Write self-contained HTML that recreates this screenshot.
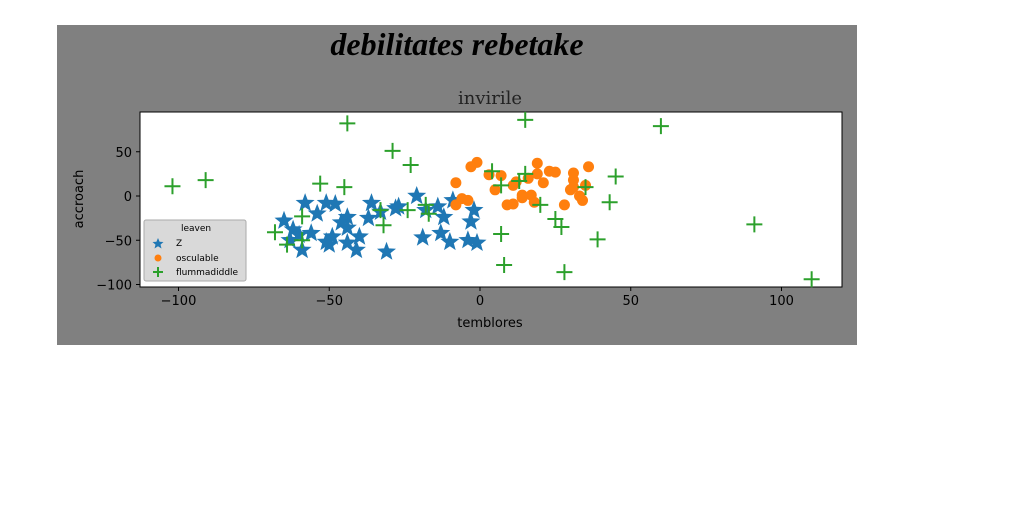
<!DOCTYPE html>
<html><head><meta charset="utf-8"><style>
html,body{margin:0;padding:0;background:#fff;}
svg{display:block;font-family:"DejaVu Sans","Liberation Sans",sans-serif;}
</style></head><body>
<svg id="chart" width="1024" height="512">
<rect x="57" y="25" width="800" height="320" fill="#808080"/>
<text x="457" y="55" text-anchor="middle" font-family="'URW Chancery L','Liberation Serif',cursive" font-style="italic" font-weight="bold" font-size="32">debilitates rebetake</text>
<text x="490" y="104" text-anchor="middle" font-family="'DejaVu Serif','Liberation Serif',serif" font-size="18" fill="#222">invirile</text>
<rect x="140" y="112" width="702" height="175" fill="#fff" stroke="#000" stroke-width="1"/>
<g id="marks"></g>
<g id="axes"></g>
<text x="490" y="327" text-anchor="middle" font-size="13">temblores</text>
<text transform="translate(83,199) rotate(-90)" text-anchor="middle" font-size="13">accroach</text>
<g>
<rect x="144" y="220" width="102" height="61" rx="2" fill="#d9d9d9" stroke="#aaa"/>
<text x="196" y="231" text-anchor="middle" font-size="9">leaven</text>
<path d="M158,238 L159.6,241.8 L163.5,242 L160.5,244.6 L161.5,248.5 L158,246.3 L154.5,248.5 L155.5,244.6 L152.5,242 L156.4,241.8Z" fill="#1f77b4"/>
<text x="176" y="246" font-size="9">Z</text>
<circle cx="158" cy="258" r="3.5" fill="#ff7f0e"/>
<text x="176" y="261" font-size="9">osculable</text>
<path d="M153,272 H163 M158,267 V277" stroke="#2ca02c" stroke-width="2"/>
<text x="176" y="275" font-size="9">flummadiddle</text>
</g>
</svg>
<script>
const xTicks=[-100,-50,0,50,100];
const yTicks=[50,0,-50,-100];
const starX=[-58,-51,-48,-65,-54,-44,-36,-37,-27,-21,-14,-9,-2,-62,-60,-63,-59,-51,-49,-44,-40,-41,-31,-19,-13,-10,-4,-1,-3,-12,-18,-44,-50,-28,-33,-46,-56];
const starY=[-8,-8,-9,-28,-20,-24,-8,-25,-12,0,-12,-5,-16,-38,-44,-50,-61,-52,-46,-36,-46,-61,-63,-47,-42,-52,-50,-53,-29,-24,-16,-53,-55,-14,-18,-30,-42];
const dotX=[-1,-3,-8,-6,-4,-8,3,7,5,11,12,16,19,19,21,23,25,14,14,17,18,9,11,28,31,31,31,30,33,34,36,35];
const dotY=[38,33,15,-3,-5,-10,24,23,7,12,16,20,37,25,15,28,27,1,-2,1,-7,-10,-9,-10,26,18,10,7,0,-5,33,12];
const plusX=[-102,-91,-44,-29,-23,-53,-45,-68,-64,-59,-59,-33,-32,-24,-18,-17,15,4,7,13,15,20,25,27,7,8,28,35,45,43,39,60,91,110];
const plusY=[11,18,82,51,35,14,10,-41,-55,-50,-23,-16,-33,-16,-10,-20,86,28,12,17,25,-10,-26,-35,-43,-78,-86,10,22,-7,-49,79,-32,-94];
const X=v=>480+v*3.015, Y=v=>196-v*0.885;
const NS="http://www.w3.org/2000/svg";
const marks=document.getElementById('marks'), axes=document.getElementById('axes');
function mk(tag,attrs,parent){const e=document.createElementNS(NS,tag);for(const k in attrs)e.setAttribute(k,attrs[k]);parent.appendChild(e);return e;}
function starPath(cx,cy,R){const r=R*0.42;let d='';for(let i=0;i<10;i++){const a=-Math.PI/2+i*Math.PI/5;const rr=i%2?r:R;d+=(i?'L':'M')+(cx+rr*Math.cos(a)).toFixed(1)+','+(cy+rr*Math.sin(a)).toFixed(1);}return d+'Z';}
starX.forEach((v,i)=>{const p=mk('path',{d:starPath(X(v),Y(starY[i]),10),fill:'#1f77b4'},marks);

});
dotX.forEach((v,i)=>{const c=mk('circle',{cx:X(v),cy:Y(dotY[i]),r:5.5,fill:'#ff7f0e'},marks);

});
plusX.forEach((v,i)=>{const x=X(v),y=Y(plusY[i]);const p=mk('path',{d:`M${x-8},${y}H${x+8}M${x},${y-8}V${y+8}`,stroke:'#2ca02c','stroke-width':2},marks);

});
xTicks.forEach(v=>{const x=X(v);mk('line',{x1:x,x2:x,y1:287,y2:291,stroke:'#000'},axes);
const t=mk('text',{x:x,y:305,'text-anchor':'middle','font-size':13},axes);t.textContent=v===0?'0':(v<0?'\u2212'+(-v):v);

});
yTicks.forEach(v=>{const y=Y(v);mk('line',{x1:136,x2:140,y1:y,y2:y,stroke:'#000'},axes);
const t=mk('text',{x:132,y:y+5,'text-anchor':'end','font-size':13},axes);t.textContent=v===0?'0':(v<0?'\u2212'+(-v):v);

});
</script>
</body></html>
